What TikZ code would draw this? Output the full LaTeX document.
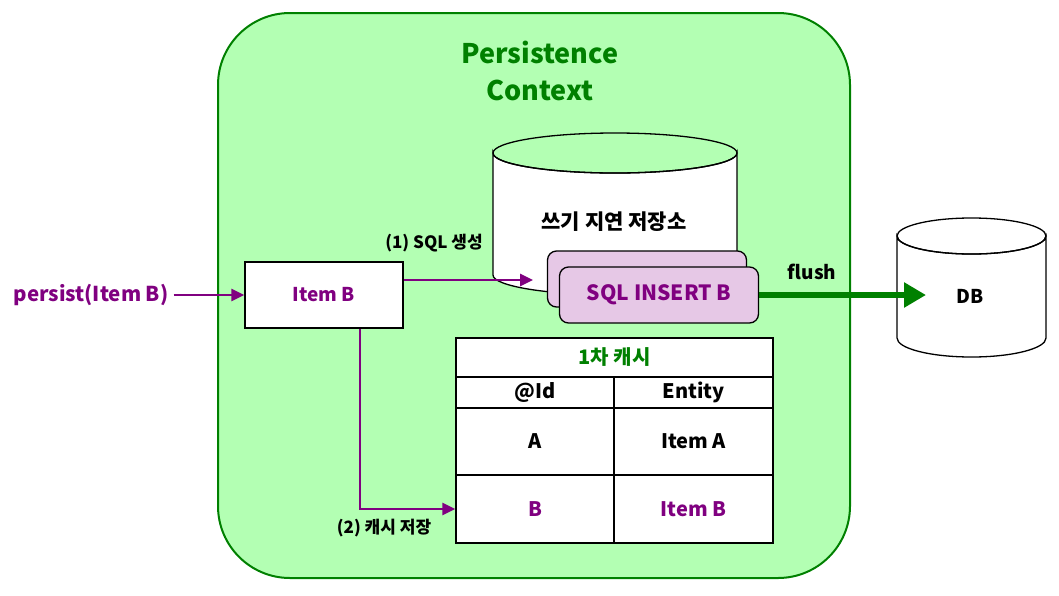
\documentclass[tikz,border=0pt]{standalone}
\usepackage{fontspec}
\setmainfont{Noto Sans CJK KR}
\usetikzlibrary{arrows.meta}
\definecolor{ctxfill}{RGB}{179,255,179}
\definecolor{ctxline}{RGB}{0,128,0}
\definecolor{itempurple}{RGB}{128,0,128}
\definecolor{sqlfill}{RGB}{230,200,230}
\tikzset{
  txt/.style={font=\bfseries\fontsize{19}{22}\selectfont, inner sep=2pt},
  big/.style={font=\bfseries\fontsize{21}{24}\selectfont, inner sep=2pt},
  small/.style={font=\bfseries\fontsize{17}{20}\selectfont, inner sep=2pt},
  cell/.style={draw, line width=1.5pt, fill=white, font=\bfseries\fontsize{20}{23}\selectfont, minimum width=#1, inner sep=0pt},
  sqlbox/.style={draw, line width=1.3pt, fill=sqlfill, rounded corners=9pt, minimum width=199pt, minimum height=56pt, big, text=itempurple},
  parrow/.style={draw=itempurple, line width=2.8pt, -{Triangle[length=13pt,width=12pt]}},
}
\begin{document}
\begin{tikzpicture}[x=1pt, y=-1pt]
    \useasboundingbox (0,0) rectangle (1059,595);
    % persistence context
    \draw[ctxline, line width=2pt, fill=ctxfill, rounded corners=72pt] (218,13) rectangle (850,578);
    \node[txt, text=ctxline, font=\bfseries\fontsize{27}{37}\selectfont, align=center] (ctx) at (540,71) {Persistence\\Context};
    % write-behind store
    \draw[line width=1.3pt, fill=white] (493,153) -- (493,275) arc[start angle=180, end angle=0, x radius=122, y radius=20]
        -- (737,153) arc[start angle=0, end angle=180, x radius=122, y radius=20] -- cycle;
    \draw[line width=1.3pt] (615,153) ellipse[x radius=122, y radius=20];
    \node[big] (store) at (614,222) {쓰기 지연 저장소};
    \node[sqlbox] (sqlback) at (647,279) {};
    \node[sqlbox] (sqlfront) at (659,295) {SQL INSERT B};
    % database
    \draw[line width=1.3pt, fill=white] (897,236) -- (897,338) arc[start angle=180, end angle=0, x radius=74.5, y radius=19]
        -- (1046,236) arc[start angle=0, end angle=180, x radius=74.5, y radius=18] -- cycle;
    \draw[line width=1.3pt] (971.5,236) ellipse[x radius=74.5, y radius=18];
    \node[txt] (db) at (970,296) {DB};
    \coordinate (dbin) at (926,295);
    \draw[ctxline, line width=6pt, -{Triangle[length=22pt,width=24pt]}] (sqlfront.east) -- (dbin);
    \node[txt] (flush) at (812,272) {flush};
    % entity
    \node[txt, font=\bfseries\fontsize{20.5}{24}\selectfont, text=itempurple, inner sep=5pt] (persist) at (91,295) {persist(Item B)};
    \node[draw, line width=1.5pt, fill=white, minimum width=158pt, minimum height=66pt, txt, text=itempurple] (itemb) at (324,295) {Item B};
    \draw[parrow] (persist.east) -- (itemb.west);
    % first-level cache
    \node[cell=317pt, minimum height=39pt, text=ctxline] (cache) at (614.5,357.5) {1차 캐시};
    \node[cell=158pt, minimum height=31pt] (idhead) at (535,392.5) {@Id};
    \node[cell=159pt, minimum height=31pt] (enthead) at (693.5,392.5) {Entity};
    \node[cell=158pt, minimum height=67pt] (ida) at (535,441.5) {A};
    \node[cell=159pt, minimum height=67pt] (enta) at (693.5,441.5) {Item A};
    \node[cell=158pt, minimum height=68pt, text=itempurple] (idb) at (535,509) {B};
    \node[cell=159pt, minimum height=68pt, text=itempurple] (entb) at (693.5,509) {Item B};
    % arrows
    \coordinate (sqlin) at (533,280);
    \draw[parrow] ([yshift=15pt]itemb.east) -- (sqlin);
    \node[small] (step1) at (434,243) {(1) SQL 생성};
    \draw[parrow] ([xshift=36pt]itemb.south) |- (idb.west);
    \node[small] (step2) at (384,528) {(2) 캐시 저장};
\end{tikzpicture}
\end{document}
